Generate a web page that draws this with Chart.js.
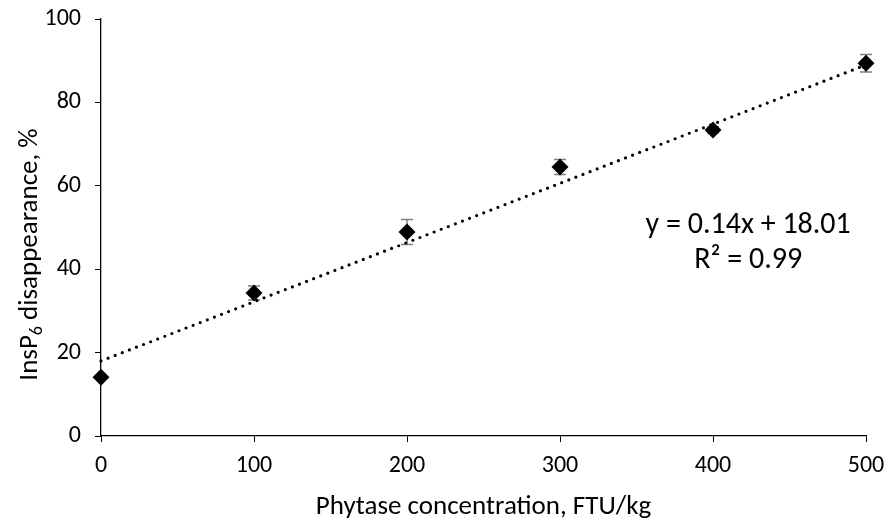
<!DOCTYPE html>
<html><head><meta charset="utf-8">
<script src="https://cdn.jsdelivr.net/npm/chart.js@4/dist/chart.umd.min.js"></script>
<style>html,body{margin:0;padding:0;background:#fff}#wrap{width:889px;height:523px;position:relative}</style>
</head><body><div id="wrap"><canvas id="c"></canvas></div>
<script>
// ---- data ----
const doses = [0, 100, 200, 300, 400, 500];
const disappearance = [14.1, 34.3, 48.9, 64.5, 73.4, 89.4];
const errorSize = [0.3, 1.7, 3.0, 1.8, 0.7, 2.1];
const trendX = [0, 500];
const trendY = [18.0, 89.0];
const xTicks = [0, 100, 200, 300, 400, 500];
const yTicks = [0, 20, 40, 60, 80, 100];
const equationLines = ["y = 0.14x + 18.01", "R² = 0.99"];
const equationAnchor = {x: 423, y: 50.5};
const xTitle = "Phytase concentration, FTU/kg";
const yTitleParts = ["InsP", "6", " disappearance, %"];

const FONT = "Carlito, Lato, 'Liberation Sans', sans-serif";
const TICK_FS = 24;
const TITLE_FS = 27;
const YTITLE_FS = 27;
const EQ_FS = 30;

const errorBars = {
  id: 'errorBars',
  beforeDatasetsDraw(chart) {
    const {ctx, scales: {x, y}} = chart;
    ctx.save();
    ctx.strokeStyle = '#7f7f7f';
    ctx.lineWidth = 1.5;
    doses.forEach((d, i) => {
      const px = x.getPixelForValue(d);
      const top = y.getPixelForValue(disappearance[i] + errorSize[i]);
      const bot = y.getPixelForValue(disappearance[i] - errorSize[i]);
      ctx.beginPath();
      ctx.moveTo(px, top); ctx.lineTo(px, bot);
      ctx.moveTo(px - 6, top); ctx.lineTo(px + 6, top);
      ctx.moveTo(px - 6, bot); ctx.lineTo(px + 6, bot);
      ctx.stroke();
    });
    ctx.restore();
  },
  afterDraw(chart) {
    const {ctx, scales: {x, y}, chartArea} = chart;
    ctx.save();
    ctx.fillStyle = '#000';
    ctx.font = `${EQ_FS}px ${FONT}`;
    ctx.textAlign = 'center';
    ctx.textBaseline = 'middle';
    const ex = x.getPixelForValue(equationAnchor.x);
    const ey = y.getPixelForValue(equationAnchor.y);
    ctx.fillText(equationLines[0], ex, ey);
    ctx.fillText(equationLines[1], ex, ey + 35);
    // y title with subscript
    const cy = (chartArea.top + chartArea.bottom) / 2 + 27;
    ctx.translate(27, cy);
    ctx.rotate(-Math.PI / 2);
    const f1 = `${YTITLE_FS}px ${FONT}`, f2 = `${Math.round(YTITLE_FS * 0.65)}px ${FONT}`;
    ctx.font = f1; const w1 = ctx.measureText(yTitleParts[0]).width;
    const w3 = ctx.measureText(yTitleParts[2]).width;
    ctx.font = f2; const w2 = ctx.measureText(yTitleParts[1]).width;
    let sx = -(w1 + w2 + w3) / 2;
    ctx.textAlign = 'left';
    ctx.textBaseline = 'alphabetic';
    ctx.font = f1; ctx.fillText(yTitleParts[0], sx, 10); sx += w1;
    ctx.font = f2; ctx.fillText(yTitleParts[1], sx, 15); sx += w2;
    ctx.font = f1; ctx.fillText(yTitleParts[2], sx, 10);
    ctx.restore();
  }
};

new Chart(document.getElementById('c'), {
  type: 'scatter',
  data: {
    datasets: [
      {
        data: doses.map((d, i) => ({x: d, y: disappearance[i]})),
        pointStyle: 'rectRot', pointRadius: 8.5, pointHoverRadius: 8.5,
        backgroundColor: '#000', borderColor: '#000', borderWidth: 0,
        clip: false, order: 1
      },
      {
        type: 'line',
        data: trendX.map((d, i) => ({x: d, y: trendY[i]})),
        borderColor: '#000', borderWidth: 3.2, borderDash: [0, 7.6],
        borderCapStyle: 'round', pointRadius: 0, fill: false, clip: false, order: 2
      }
    ]
  },
  options: {
    responsive: true, maintainAspectRatio: false, animation: false,
    layout: {padding: {top: 19, right: 23, left: 0, bottom: 0}},
    plugins: {legend: {display: false}, tooltip: {enabled: false}},
    scales: {
      x: {
        type: 'linear', min: 0, max: 500,
        afterBuildTicks(s) { s.ticks = xTicks.map(v => ({value: v})); },
        afterFit(s) { s.height = 87; s.paddingLeft = 0; s.paddingRight = 0; },
        grid: {display: true, drawOnChartArea: false, drawTicks: true, tickLength: 6, color: '#000'},
        border: {display: true, color: '#000', width: 1.3},
        ticks: {color: '#000', font: {family: FONT, size: TICK_FS}, padding: 10, maxRotation: 0},
        title: {display: true, text: xTitle, color: '#000', font: {family: FONT, size: TITLE_FS}, padding: {top: 4, bottom: 0}}
      },
      y: {
        type: 'linear', min: 0, max: 100,
        afterBuildTicks(s) { s.ticks = yTicks.map(v => ({value: v})); },
        afterFit(s) { s.width = 101; s.paddingTop = 0; s.paddingBottom = 0; },
        grid: {display: true, drawOnChartArea: false, drawTicks: true, tickLength: 6, color: '#000'},
        border: {display: true, color: '#000', width: 1.3},
        ticks: {color: '#000', font: {family: FONT, size: TICK_FS}, padding: 14}
      }
    }
  },
  plugins: [errorBars]
});
</script>
</body></html>
